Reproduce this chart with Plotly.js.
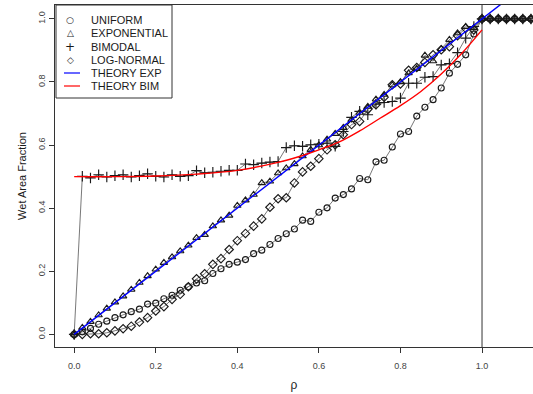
<!DOCTYPE html>
<html><head><meta charset="utf-8">
<script src="https://cdn.plot.ly/plotly-3.0.1.min.js"></script>
<style>html,body{margin:0;padding:0;background:#fff}</style>
</head><body><div id="chart" style="width:533px;height:394px"></div>
<script>
// ---- data ----
const rho = [0,0.02,0.04,0.06,0.08,0.10,0.12,0.14,0.16,0.18,
  0.20,0.22,0.24,0.26,0.28,0.30,0.32,0.34,0.36,0.38,
  0.40,0.42,0.44,0.46,0.48,0.50,0.52,0.54,0.56,0.58,
  0.60,0.62,0.64,0.66,0.68,0.70,0.72,0.74,0.76,0.78,
  0.80,0.82,0.84,0.86,0.88,0.90,0.92,0.94,0.96,0.98,
  1.00,1.02,1.04,1.06,1.08,1.10,1.12];
const uniform = [0,0.008,0.019,0.032,0.042,0.053,0.062,0.072,0.080,0.096,
  0.099,0.113,0.124,0.140,0.151,0.163,0.170,0.193,0.208,0.222,
  0.229,0.237,0.256,0.267,0.285,0.304,0.319,0.334,0.362,0.358,
  0.387,0.401,0.432,0.443,0.461,0.494,0.490,0.547,0.552,0.594,
  0.635,0.643,0.692,0.720,0.744,0.781,0.828,0.856,0.886,0.952,
  1,1,1,1,1,1,1];
const exponential = [0,0.021,0.040,0.061,0.082,0.102,0.121,0.142,0.164,0.185,
  0.206,0.227,0.245,0.264,0.282,0.306,0.316,0.343,0.362,0.377,
  0.408,0.425,0.443,0.480,0.485,0.511,0.527,0.540,0.565,0.585,
  0.600,0.618,0.636,0.655,0.680,0.703,0.722,0.745,0.760,0.790,
  0.800,0.828,0.842,0.884,0.866,0.905,0.934,0.955,0.975,0.972,
  1,1,1,1,1,1,1];
const bimodal = [0,0.501,0.496,0.506,0.499,0.503,0.506,0.499,0.503,0.509,
  0.501,0.499,0.506,0.501,0.503,0.519,0.512,0.514,0.517,0.520,
  0.520,0.540,0.538,0.543,0.546,0.548,0.592,0.598,0.596,0.601,
  0.603,0.606,0.596,0.643,0.688,0.707,0.696,0.730,0.735,0.738,
  0.749,0.796,0.796,0.815,0.817,0.854,0.858,0.893,0.939,0.976,
  1,1,1,1,1,1,1];
const lognormal = [0,0.000,0.002,0.002,0.005,0.011,0.018,0.026,0.039,0.053,
  0.074,0.088,0.111,0.127,0.151,0.176,0.192,0.222,0.240,0.269,
  0.297,0.320,0.343,0.366,0.403,0.430,0.433,0.480,0.515,0.533,
  0.557,0.585,0.601,0.633,0.665,0.675,0.714,0.728,0.752,0.791,
  0.794,0.837,0.846,0.862,0.886,0.902,0.912,0.947,0.970,0.965,
  1,1,1,1,1,1,1];
const theoryExpX = [0, 1.12];
const theoryExpY = [0, 1.12];
const theoryBimX = [0,0.1,0.2,0.3,0.4,0.5,0.55,0.6,0.65,0.7,0.75,0.8,0.85,0.9,0.95,1.0];
const theoryBimY = [0.5,0.5,0.502,0.508,0.52,0.545,0.563,0.585,0.61,0.645,0.685,0.725,0.77,0.825,0.89,0.965];
const seriesNames = ['UNIFORM','EXPONENTIAL','BIMODAL','LOG-NORMAL','THEORY EXP','THEORY BIM'];
const legendGlyphs = ['\u25CB','\u25B3','+','\u25C7'];
const xTicks = [0,0.2,0.4,0.6,0.8,1.0];
const xTickText = ['0.0','0.2','0.4','0.6','0.8','1.0'];
const yTicks = [0,0.2,0.4,0.6,0.8,1.0];
const yTickText = ['0.0','0.2','0.4','0.6','0.8','1.0'];
const thresholdRho = 1.0;

// ---- styling ----
const FONT = 'Liberation Sans, Arial, Helvetica, sans-serif';
const ink = '#1a1a1a';
const series = [
  {y: uniform, sym: 'circle-open', size: 6},
  {y: exponential, sym: 'triangle-up-open', size: 6.5},
  {y: bimodal, sym: 'cross-thin-open', size: 7.5},
  {y: lognormal, sym: 'diamond-open', size: 6.5}
];
const traces = [];
series.forEach((s, i) => {
  traces.push({x: rho, y: s.y, type: 'scatter', mode: 'lines', showlegend: false,
    line: {color: '#555', width: 0.8}, hoverinfo: 'skip'});
});
series.forEach((s, i) => {
  traces.push({x: rho, y: s.y, type: 'scatter', mode: 'markers', name: seriesNames[i], showlegend: false,
    marker: {symbol: s.sym, size: s.size, color: ink, line: {color: ink, width: 1.15}}});
});
traces.push({x: theoryExpX, y: theoryExpY, type: 'scatter', mode: 'lines', name: seriesNames[4], showlegend: false,
  line: {color: '#0000ff', width: 1.4}});
traces.push({x: theoryBimX, y: theoryBimY, type: 'scatter', mode: 'lines', name: seriesNames[5], showlegend: false,
  line: {color: '#ff0000', width: 1.4, shape: 'spline'}});

// manual R-style legend box (paper coords)
const plotL = 55, plotR = 533, plotT = 5, plotB = 347;
const px = v => (v - plotL) / (plotR - plotL);
const py = v => (plotB - v) / (plotB - plotT);
const rowY = [20, 33, 47, 60, 73, 86];
const shapes = [
  {type: 'line', xref: 'x', yref: 'paper', x0: thresholdRho, x1: thresholdRho, y0: 0, y1: 1,
   line: {color: '#333', width: 1}, layer: 'below'},
  {type: 'rect', xref: 'paper', yref: 'paper', x0: px(56), x1: px(172), y0: py(98), y1: py(5),
   line: {color: '#333', width: 1}, fillcolor: 'white', layer: 'above'}
];
shapes.push({type: 'line', xref: 'paper', yref: 'paper', x0: px(64), x1: px(80), y0: py(rowY[4]), y1: py(rowY[4]),
  line: {color: '#0000ff', width: 1.2}, layer: 'above'});
shapes.push({type: 'line', xref: 'paper', yref: 'paper', x0: px(64), x1: px(80), y0: py(rowY[5]), y1: py(rowY[5]),
  line: {color: '#ff0000', width: 1.2}, layer: 'above'});
const annotations = [];
seriesNames.forEach((n, i) => {
  annotations.push({xref: 'paper', yref: 'paper', x: px(89), y: py(rowY[i]), xanchor: 'left', yanchor: 'middle',
    text: n, showarrow: false, font: {family: FONT, size: 11, color: ink}});
});
legendGlyphs.forEach((g, i) => {
  annotations.push({xref: 'paper', yref: 'paper', x: px(70), y: py(rowY[i]), xanchor: 'center', yanchor: 'middle',
    text: g, showarrow: false, font: {family: 'DejaVu Sans', size: i === 2 ? 12 : 9, color: ink}});
});

const layout = {
  width: 533, height: 394,
  margin: {l: 55, r: 0, t: 5, b: 47},
  paper_bgcolor: 'white', plot_bgcolor: 'white',
  font: {family: FONT, color: ink},
  showlegend: false,
  xaxis: {range: [-0.047, 1.125], tickvals: xTicks, ticktext: xTickText, ticks: 'outside', ticklen: 5,
    tickcolor: '#333', showline: true, mirror: true, linecolor: '#333', linewidth: 1,
    showgrid: false, zeroline: false, tickfont: {size: 9, color: '#444'}, ticklabelstandoff: 5,
    title: {text: 'ρ', font: {size: 12, color: '#222'}, standoff: 10}},
  yaxis: {range: [-0.04, 1.044], tickvals: yTicks, ticktext: yTickText, ticks: 'outside', ticklen: 5,
    tickcolor: '#333', showline: true, mirror: false, linecolor: '#333', linewidth: 1,
    showgrid: false, zeroline: false, tickangle: -90, tickfont: {size: 9, color: '#444'},
    title: {text: 'Wet Area Fraction', font: {size: 11, color: ink}, standoff: 8}},
  shapes: shapes,
  annotations: annotations
};
Plotly.newPlot('chart', traces, layout, {displayModeBar: false, staticPlot: true});
</script></body></html>
